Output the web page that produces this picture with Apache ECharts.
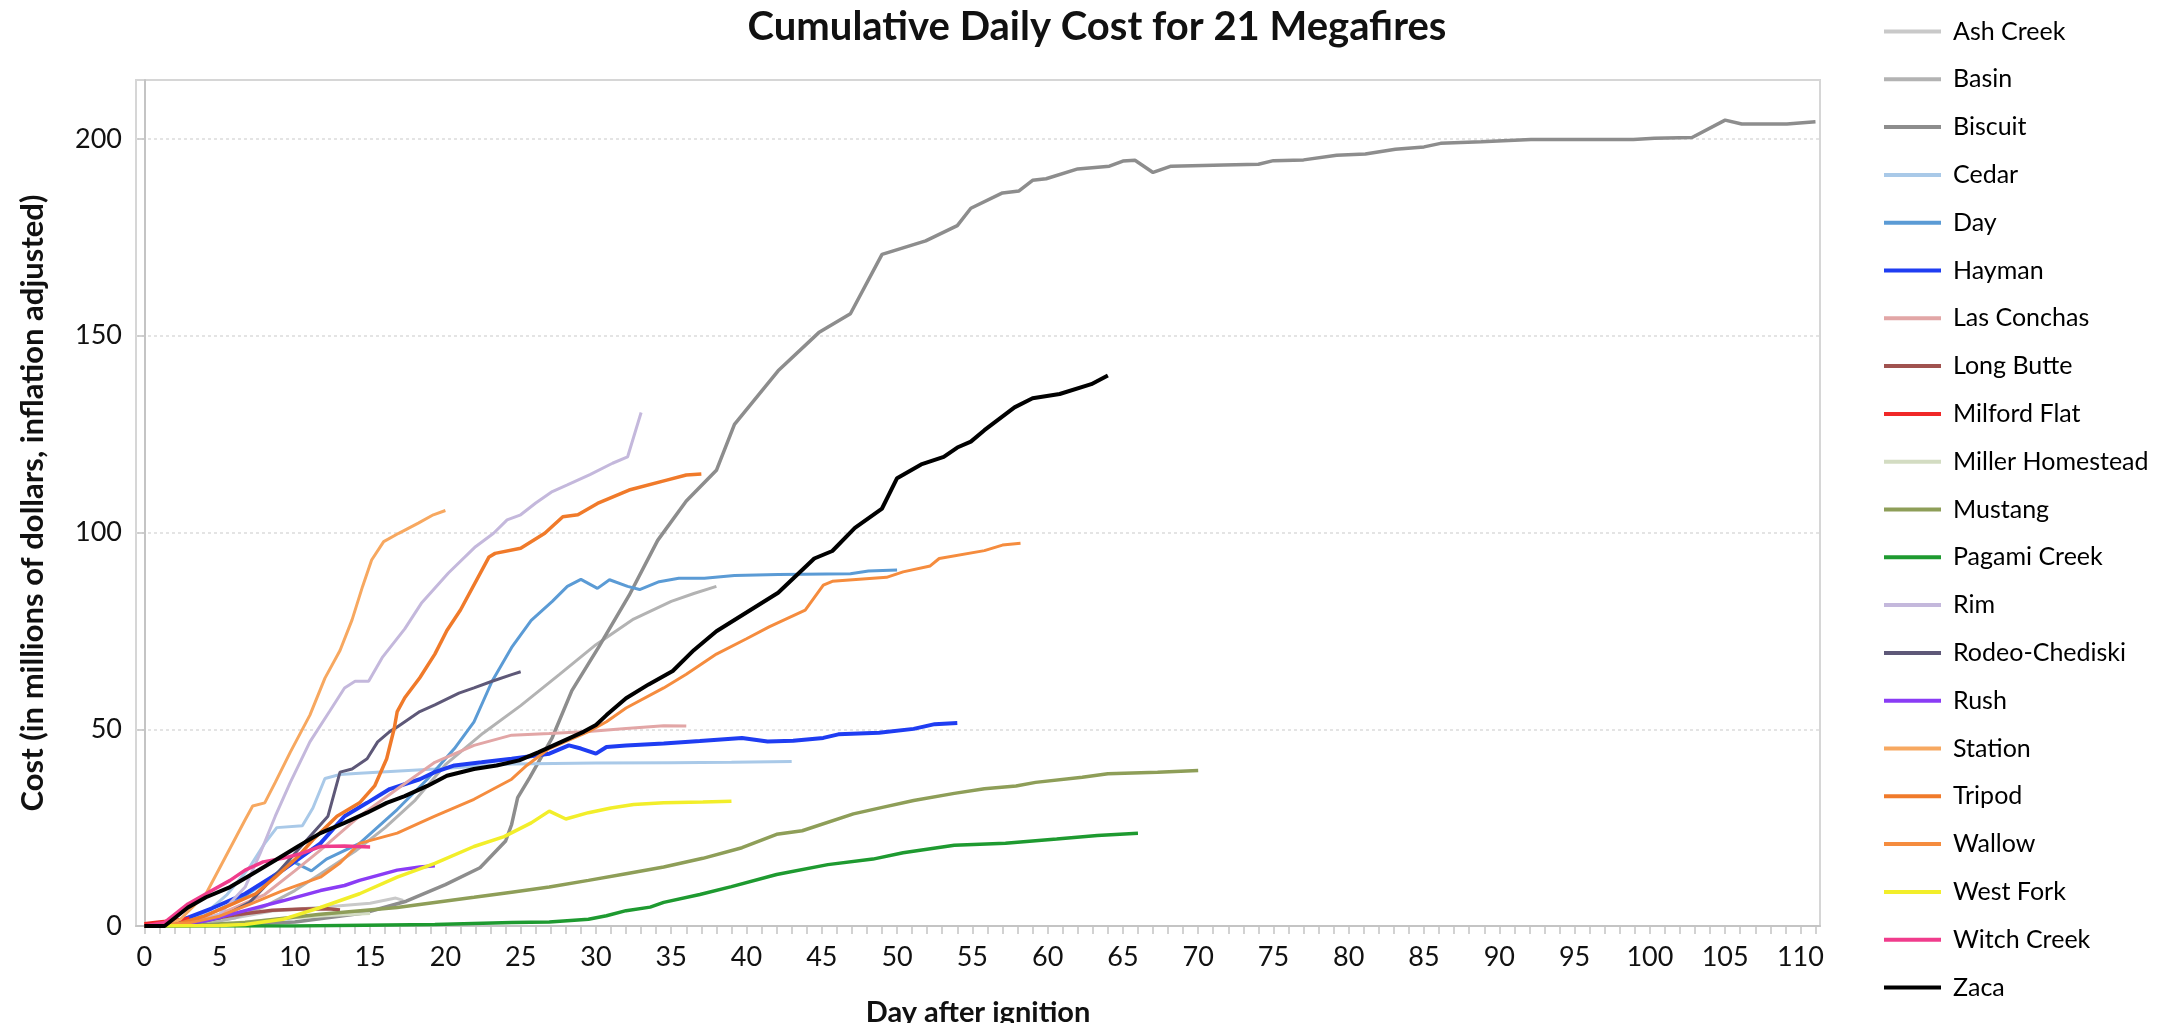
<!DOCTYPE html>
<html><head><meta charset="utf-8">
<script src="https://cdn.jsdelivr.net/npm/echarts@6/dist/echarts.min.js"></script>
<style>html,body{margin:0;padding:0;background:#fff}#c{width:2177px;height:1023px}</style>
</head><body><div id="c"></div>
<script>
// ---- data: [day after ignition, cumulative cost in $ millions] ----
const fireNames = ['Ash Creek','Basin','Biscuit','Cedar','Day','Hayman','Las Conchas','Long Butte','Milford Flat','Miller Homestead','Mustang','Pagami Creek','Rim','Rodeo-Chediski','Rush','Station','Tripod','Wallow','West Fork','Witch Creek','Zaca'];

const ashCreek = [[0,0],[3,0.5],[6,2],[8.5,3.8],[12,4.8],[15,5.8],[16.7,7.1],[17.2,6.5]];
const basin = [[0,0],[4,0.5],[6,2],[8,5],[10,9],[12,14],[14,19],[16,25],[18,32],[20,41],[22.5,49],[25,56],[27.6,64],[30,71.5],[32.5,78],[35,82.5],[36.5,84.5],[38,86.3]];
const biscuit = [[0,0],[5,0.2],[10,1],[14.6,3.3],[17.4,6.3],[20,10.5],[22.3,14.8],[24,21.6],[24.4,25.8],[24.8,32.6],[25.6,37.7],[27.1,47.9],[28.4,59.8],[30.2,71],[32.2,84],[34.1,98],[36,108],[38,115.8],[39.2,127.5],[42.1,141.1],[44.8,150.8],[46.9,155.6],[49,170.7],[51.9,174.1],[54,178],[54.9,182.4],[57,186.3],[58.1,186.8],[59,189.5],[59.9,189.9],[62,192.4],[64.1,193.1],[65,194.4],[65.8,194.6],[67,191.5],[68.2,193.1],[71.7,193.4],[74,193.6],[75,194.5],[77,194.7],[79.2,195.9],[81.1,196.2],[83.1,197.4],[85,198],[86.1,198.9],[88.8,199.3],[92.1,199.9],[98.9,199.9],[100.3,200.2],[102.8,200.4],[105,204.8],[106.1,203.8],[109.1,203.8],[111,204.4]];
const cedar = [[0,0],[2,0.3],[4,3],[5.5,8],[7,15],[8,21],[8.8,25],[10.5,25.5],[11.2,30],[12,37.5],[13,38.5],[14.3,38.8],[19.3,39.9],[24.4,41.2],[30,41.4],[35,41.5],[39,41.6],[43,41.8]];
const dayFire = [[0,0],[2,0.5],[4,2.5],[6,6],[8,11],[9.8,16.5],[11.1,14],[12.1,17],[14.3,21],[16.8,29.6],[18.8,37.3],[20.6,45.1],[21.9,51.9],[23.1,62.2],[24.4,70.8],[25.7,77.7],[27.1,82.5],[28.1,86.3],[29,88.1],[30.1,85.8],[30.9,88],[32.1,86.3],[32.9,85.5],[34.2,87.5],[35.5,88.4],[37.2,88.4],[39.2,89.1],[42.1,89.3],[46.9,89.5],[48.1,90.2],[50,90.5]];
const hayman = [[0,0],[1.5,0.3],[2.9,2.1],[4.5,4.5],[6.7,8.2],[9.2,14.2],[11.7,21],[13.3,27.9],[14.8,31.3],[16.3,34.8],[18.3,37.3],[19.3,39.1],[20.6,40.8],[22.4,41.6],[24.4,42.5],[26.9,43.8],[28.2,45.9],[29,45.1],[30,43.8],[30.7,45.5],[32,45.9],[34.5,46.4],[36.9,47],[39.7,47.8],[41.4,46.9],[43.1,47.1],[45.1,47.8],[46.1,48.7],[48.8,49.1],[51.1,50.1],[52.5,51.3],[54,51.6]];
const lasConchas = [[0,0],[3,0.5],[5,3],[8,8],[10,14],[11.7,19.3],[14.3,27.9],[16.8,34.8],[19.3,41.6],[21.9,45.9],[24.4,48.5],[26.9,48.9],[29.5,49.4],[32,50.2],[34.5,50.9],[36,50.8]];
const longButte = [[0,0],[2,0.5],[4,1.5],[6,2.8],[8.5,4],[10.5,4.3],[12.2,4.4],[13,4.1]];
const milfordFlat = [[0,0.6],[1,1],[2,1.4],[3,2]];
const millerHomestead = [[0,0],[3,0.2],[6,0.8],[9,1.8],[12,2.6],[15,3.2]];
const mustang = [[0,0],[3,0.1],[6.7,0.9],[11.7,3],[16.8,4.7],[21.9,7.3],[24.4,8.6],[26.9,9.9],[29.5,11.6],[32,13.3],[34.5,15],[37.1,17.2],[39.7,19.9],[42,23.3],[43.7,24.2],[47.1,28.5],[49.1,30.2],[51.1,31.9],[53.8,33.7],[55.8,34.9],[57.9,35.6],[59.2,36.5],[62.3,37.8],[64,38.7],[67.3,39.1],[70,39.5]];
const pagamiCreek = [[0,0],[10,0],[19.3,0.4],[24.4,0.9],[26.9,1],[29.5,1.7],[30.7,2.6],[32,3.9],[33.6,4.8],[34.5,6],[36.9,8],[39,10],[42,13.1],[45.4,15.6],[48.4,17],[50.4,18.6],[53.8,20.5],[57.2,21],[60.6,22.1],[63.3,23],[66,23.6]];
const rim = [[0,0],[3,0.3],[5,3],[6.7,9.9],[7.7,18.5],[8.7,27.9],[9.7,36.5],[11,46.8],[12.3,54.5],[13.3,60.5],[14,62.2],[14.9,62.2],[15.8,68.2],[17.3,75.5],[18.4,82],[20.2,89.7],[22,96.4],[23.2,99.8],[24.1,103.2],[25,104.5],[26,107.5],[27.1,110.4],[28.1,112.1],[29.6,114.7],[31.1,117.6],[32.1,119.2],[33,130.5]];
const rodeoChediski = [[0,0],[3,0.5],[5,2],[7,6],[8.5,12],[10.2,19.3],[12.2,27.9],[13,39.1],[13.8,39.9],[14.8,42.5],[15.5,46.8],[16.3,49.4],[16.8,50.6],[18.3,54.5],[19.3,56.2],[20.9,59.2],[21.9,60.5],[23.1,62.2],[24.4,63.9],[25,64.6]];
const rush = [[0,0],[2,0.3],[4.1,1.3],[6.7,3.9],[9.2,6.4],[11.7,9],[13.3,10.3],[14.3,11.6],[16.8,14.2],[18.3,15],[19.3,15.3]];
const station = [[0,0],[1.6,0.4],[2.4,1.7],[4.1,8.2],[5.4,17.6],[6.7,27],[7.2,30.5],[8,31.3],[8.7,36.5],[9.7,44.2],[11,53.6],[12,63],[13,70],[13.8,77.8],[14.5,86.3],[15.1,93],[15.9,97.7],[16.9,99.8],[18.2,102.4],[19.2,104.5],[20,105.6]];
const tripod = [[0,0],[2,0.3],[4,2.5],[5.5,5],[7.4,8.2],[8.7,12.4],[10.2,17.6],[11.2,21.9],[12.8,27.9],[14.3,31.3],[15.3,35.6],[16.1,42.5],[16.6,50.2],[16.8,54.5],[17.3,58],[18.3,63.1],[19.3,69.1],[20.1,75.1],[21,80.3],[22.9,93.8],[23.3,94.7],[25,96],[26.6,99.8],[27.8,104],[28.8,104.5],[30.1,107.4],[32.2,110.8],[34.7,113.3],[36,114.6],[37,114.9]];
const wallow = [[0,0],[3,0.8],[5,2.5],[7,5.5],[9.2,9],[11.7,12.4],[13,16],[14.3,21],[16.8,23.6],[18.3,26.2],[19.3,27.9],[21.9,32.2],[24.4,37.3],[25.4,40.8],[26.9,45.1],[29.5,49.4],[30.7,51.9],[32,55.4],[34.5,60.5],[36,64],[38,69.1],[40,73],[41.5,76],[43.9,80.3],[45.1,86.6],[45.7,87.6],[49.3,88.6],[50.4,90],[52.2,91.5],[52.8,93.4],[55.8,95.4],[57,96.8],[58.2,97.3]];
const westFork = [[0,0],[5,0.1],[6.7,0.4],[9.2,1.7],[11.7,4.7],[14.3,8.2],[16.8,12.4],[19.3,15.9],[21.9,20.2],[23.9,22.7],[25.7,26.2],[26.9,29.2],[28,27.2],[29.5,28.8],[31,30],[32.5,30.9],[34.5,31.3],[37.1,31.5],[39,31.7]];
const witchCreek = [[0,0],[1.35,0.9],[2.9,5.6],[4.1,8.2],[5.7,11.6],[6.7,14.2],[7.9,16.3],[9.2,17.2],[10.5,18.5],[11.7,20.2],[13.3,20.3],[15,20.1]];
const zaca = [[0,0],[1.35,0],[2.9,4.7],[4.1,7.3],[5.7,9.9],[7.2,13.3],[8.7,16.7],[10.2,20.2],[11.7,23.6],[13.3,26.2],[14.8,28.8],[16.1,31.3],[17.3,33],[18.8,35.6],[20.1,38.2],[21.9,39.9],[23.4,40.8],[24.9,42.1],[26.2,44.2],[27.7,46.8],[29.2,49.4],[30,51.1],[30.7,53.6],[32,57.9],[33.5,61.4],[35.1,64.8],[36.5,70.1],[38,74.9],[42.1,84.7],[44.5,93.4],[45.7,95.3],[47.2,101.2],[49,106.1],[50,113.8],[51.6,117.3],[53.1,119.2],[54,121.6],[54.9,123.1],[55.8,126],[57.8,131.8],[59,134.1],[60.8,135.2],[62.9,137.7],[64,139.9]];

const fireValues = [ashCreek, basin, biscuit, cedar, dayFire, hayman, lasConchas, longButte, milfordFlat, millerHomestead, mustang, pagamiCreek, rim, rodeoChediski, rush, station, tripod, wallow, westFork, witchCreek, zaca];

const xTickLabels = [0,5,10,15,20,25,30,35,40,45,50,55,60,65,70,75,80,85,90,95,100,105,110];
const xTickDays = [0,1,2,3,4,5,6,7,8,9,10,11,12,13,14,15,16,17,18,19,20,21,22,23,24,25,26,27,28,29,30,31,32,33,34,35,36,37,38,39,40,41,42,43,44,45,46,47,48,49,50,51,52,53,54,55,56,57,58,59,60,61,62,63,64,65,66,67,68,69,70,71,72,73,74,75,76,77,78,79,80,81,82,83,84,85,86,87,88,89,90,91,92,93,94,95,96,97,98,99,100,101,102,103,104,105,106,107,108,109,110,111];
const yTickLabels = [0,50,100,150,200];

// ---- styles ----
const fireColors = ['#c9c9c9','#b3b3b3','#8d8d8d','#a9c9e8','#5b9bd5','#1f3df2','#e2a6a6','#a0524f','#f02828','#d3dcc2','#8e9e58','#1e9a30','#c4b8dc','#5e5878','#8a3cf5','#f7a860','#f07a2a','#f58c3e','#f2ee2a','#f03c8c','#000000'];
const fireWidths = [3,3,3.5,3,3,4,3,3.5,3.5,3,3.5,3.5,3,3,3.5,3,3.5,3,3.5,3.5,4];
const FONT = 'Lato, "Open Sans", sans-serif';

const chart = echarts.init(document.getElementById('c'), null, {renderer: 'canvas'});
chart.setOption({
  animation: false,
  backgroundColor: '#ffffff',
  title: {
    text: 'Cumulative Daily Cost for 21 Megafires',
    left: 1097, top: 7, textAlign: 'center', padding: 0,
    textStyle: {fontFamily: FONT, fontSize: 40, fontWeight: 'bold', color: '#111'}
  },
  legend: {
    orient: 'vertical', left: 1884, top: 19, padding: 0,
    icon: 'rect', itemWidth: 57, itemHeight: 4, itemGap: 22.8,
    textStyle: {fontFamily: FONT, fontSize: 25, color: '#000', lineHeight: 24, padding: [0,0,0,7]},
    data: fireNames
  },
  grid: {left: 136, right: 357, top: 80, bottom: 97, show: true, borderColor: '#d6d6d6', borderWidth: 2, containLabel: false, outerBoundsMode: 'none'},
  xAxis: {
    type: 'value', min: -0.55, max: 111.3,
    name: 'Day after ignition', nameLocation: 'middle', nameGap: 72,
    nameTextStyle: {fontFamily: FONT, fontSize: 29, fontWeight: 'bold', color: '#111', verticalAlign: 'top'},
    axisLine: {show: true, onZero: false, lineStyle: {color: '#c4c4c4', width: 2}},
    axisTick: {show: true, customValues: xTickDays, length: 8, lineStyle: {color: '#c4c4c4', width: 1.5}},
    axisLabel: {customValues: xTickLabels, margin: 18, fontFamily: FONT, fontSize: 27, color: '#111'},
    splitLine: {show: false}
  },
  yAxis: {
    type: 'value', min: 0, max: 215, interval: 50,
    name: 'Cost (in millions of dollars, inflation adjusted)', nameLocation: 'middle', nameGap: 88,
    nameTextStyle: {fontFamily: FONT, fontSize: 31, fontWeight: 'bold', color: '#111'},
    axisLine: {show: true, lineStyle: {color: '#c4c4c4', width: 2}},
    axisTick: {show: true, customValues: yTickLabels, length: 7, lineStyle: {color: '#c4c4c4', width: 1.5}},
    axisLabel: {customValues: yTickLabels, margin: 14, fontFamily: FONT, fontSize: 27, color: '#111'},
    splitLine: {show: true, lineStyle: {color: '#dcdcdc', width: 1.5, type: [3, 3]}}
  },
  series: fireNames.map((n, i) => ({
    name: n, type: 'line', data: fireValues[i],
    showSymbol: false, symbol: 'none', smooth: false,
    color: fireColors[i],
    lineStyle: {color: fireColors[i], width: fireWidths[i]},
    z: 2 + i
  }))
});
</script>
</body></html>
